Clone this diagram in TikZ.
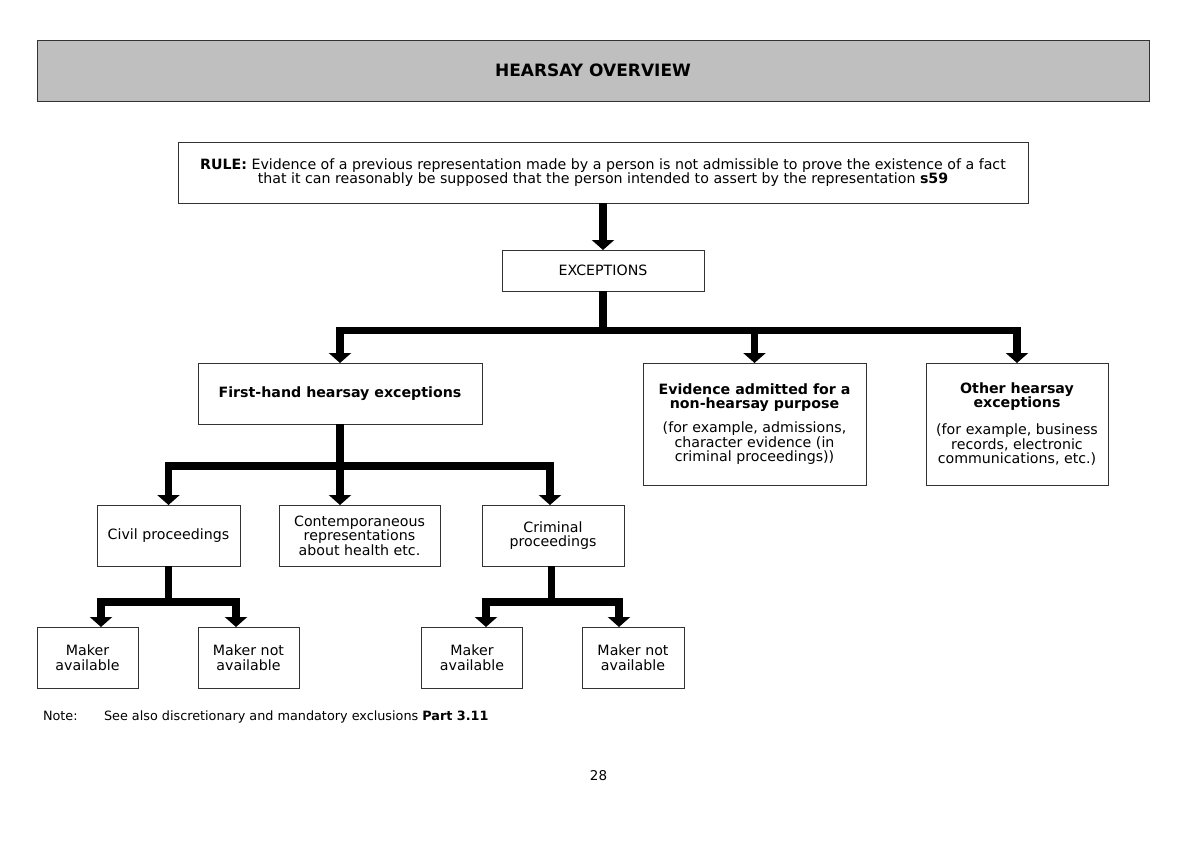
\documentclass[tikz,border=0pt]{standalone}
\usepackage{fontspec}
\setmainfont{DejaVu Sans}
\usetikzlibrary{arrows.meta}
\begin{document}
\begin{tikzpicture}[x=1pt,y=-1pt,
  box/.style={draw=black!80, line width=0.9pt, inner sep=0pt, outer sep=0pt,
    align=center, font=\fontsize{14.2}{14.6}\selectfont},
  bus/.style={line width=7.5pt, line join=miter, draw=black},
  arr/.style={bus, -{Triangle[width=22pt,length=10pt]}},
  plain/.style={inner sep=0pt, outer sep=0pt},
]
\useasboundingbox (0,0) rectangle (1200,849);

% header
\node[box, fill=black!25, minimum width=1112pt, minimum height=61pt,
  font=\fontsize{17}{19}\bfseries] (head) at (593,70.5) {HEARSAY OVERVIEW};

% boxes
\node[box, minimum width=850pt, minimum height=61pt] (rule) at (603,172.5)
 {\textbf{RULE:} Evidence of a previous representation made by a person is not admissible to prove the existence of a fact\\
  that it can reasonably be supposed that the person intended to assert by the representation \textbf{s59}};
\node[box, minimum width=202pt, minimum height=41pt] (exc) at (603,270.5) {EXCEPTIONS};

\node[box, minimum width=284pt, minimum height=61pt] (fh) at (340,393.5) {\textbf{First-hand hearsay exceptions}};
\node[box, minimum width=223pt, minimum height=122pt] (ev) at (754.5,424)
 {\textbf{Evidence admitted for a}\\\textbf{non-hearsay purpose}\\[9pt]
  (for example, admissions,\\character evidence (in\\criminal proceedings))};
\node[box, minimum width=182pt, minimum height=122pt] (oth) at (1017,424)
 {\textbf{Other hearsay}\\\textbf{exceptions}\\[12pt]
  (for example, business\\records, electronic\\communications, etc.)};

\node[box, minimum width=143pt, minimum height=61pt] (civ) at (168.5,535.5) {Civil proceedings};
\node[box, minimum width=161pt, minimum height=61pt] (con) at (359.5,535.5)
 {Contemporaneous\\representations\\about health etc.};
\node[box, minimum width=142pt, minimum height=61pt] (cri) at (553,535.5) {Criminal\\proceedings};

\node[box, minimum width=101pt, minimum height=61pt] (m1) at (87.5,657.5) {Maker\\available};
\node[box, minimum width=101pt, minimum height=61pt] (m2) at (248.5,657.5) {Maker not\\available};
\node[box, minimum width=101pt, minimum height=61pt] (m3) at (472,657.5) {Maker\\available};
\node[box, minimum width=102pt, minimum height=61pt] (m4) at (633,657.5) {Maker not\\available};

% connectors
\draw[arr] (rule.south) -- (exc.north);

\draw[arr] (exc.south) -- ++(0,39.5) -| (fh.north);
\draw[arr] (exc.south) -- ++(0,39.5) -| (ev.north);
\draw[arr] (exc.south) -- ++(0,39.5) -| (oth.north);

\draw[arr] (fh.south) -- ++(0,42) -| (civ.north);
\draw[arr] (fh.south) -- (fh.south |- con.north);
\draw[arr] (fh.south) -- ++(0,42) -| ([xshift=-3pt]cri.north);

\draw[arr] (civ.south) -- ++(0,36) -| ([xshift=13.5pt]m1.north);
\draw[arr] (civ.south) -- ++(0,36) -| ([xshift=-12.5pt]m2.north);

\draw[arr] ([xshift=-1.5pt]cri.south) -- ++(0,36) -| ([xshift=14pt]m3.north);
\draw[arr] ([xshift=-1.5pt]cri.south) -- ++(0,36) -| ([xshift=-14pt]m4.north);

% note and page number
\node[plain, anchor=base west, font=\fontsize{12.8}{14}\selectfont] (note) at (43,720.5) {Note:};
\node[plain, anchor=base west, font=\fontsize{12.8}{14}\selectfont] (notetext) at (104,720.5)
 {See also discretionary and mandatory exclusions \textbf{Part 3.11}};
\node[plain, font=\fontsize{13.5}{15}\selectfont] (page) at (598.5,776) {28};
\end{tikzpicture}
\end{document}
